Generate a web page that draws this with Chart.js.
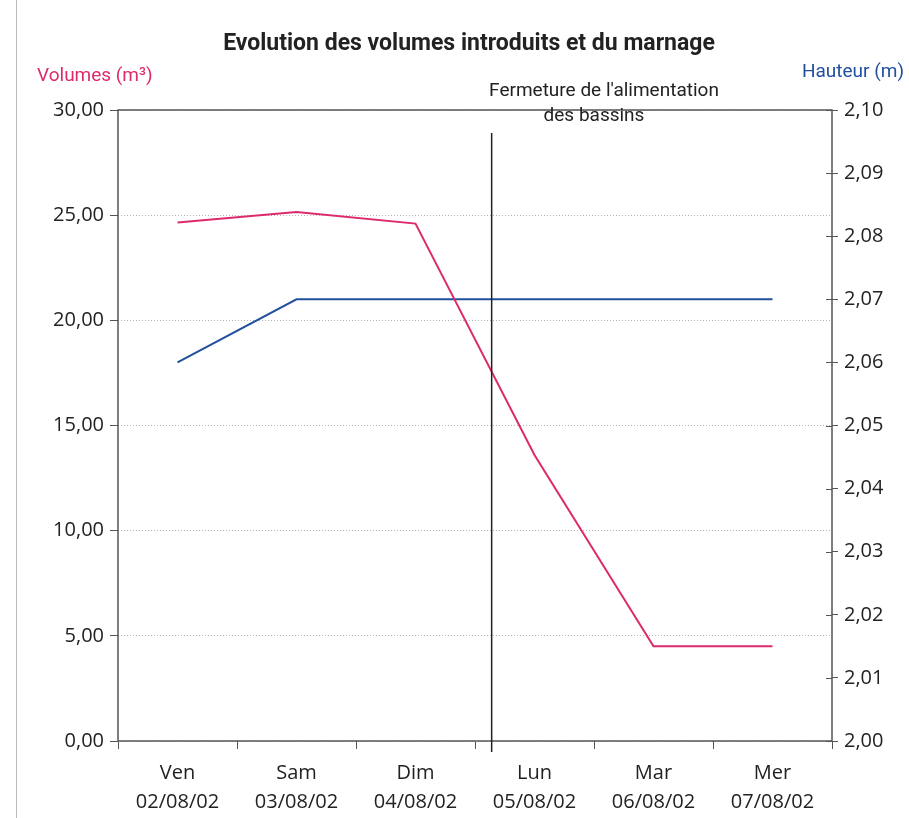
<!DOCTYPE html>
<html>
<head>
<meta charset="utf-8">
<script src="https://cdn.jsdelivr.net/npm/chart.js@4"></script>
<style>
  html, body { margin: 0; padding: 0; background: #fff; }
  #wrap { width: 909px; height: 818px; }
</style>
</head>
<body>
<div id="wrap"><canvas id="myChart" width="909" height="818"></canvas></div>
<script>
// jours (deux lignes par etiquette)
var days = [['Ven', '02/08/02'], ['Sam', '03/08/02'], ['Dim', '04/08/02'], ['Lun', '05/08/02'], ['Mar', '06/08/02'], ['Mer', '07/08/02']];
// volumes introduits (m3), axe gauche
var volumes = [24.65, 25.15, 24.6, 13.6, 4.5, 4.5];
// hauteur du marnage (m), axe droit
var hauteur = [2.06, 2.07, 2.07, 2.07, 2.07, 2.07];
// position de la fermeture (entre Dim et Lun)
var fermeture = 2.64;

var pink = '#dc2a6c';
var blue = '#22509e';
var font = "'Open Sans', 'DejaVu Sans', sans-serif";
var narrow = "'Roboto', sans-serif";

function comma(v) { return Number(v).toFixed(2).replace('.', ','); }

var extras = {
  id: 'extras',
  beforeDraw: function(chart) {
    var c = chart.ctx;
    c.save();
    c.fillStyle = '#fff';
    c.fillRect(0, 0, chart.width, chart.height);
    // bord de page scanne
    c.strokeStyle = '#bbb';
    c.lineWidth = 1;
    c.beginPath(); c.moveTo(16.5, 0); c.lineTo(16.5, chart.height); c.stroke();
    c.restore();
  },
  afterDraw: function(chart) {
    var c = chart.ctx, a = chart.chartArea;
    var x = chart.scales.x, yr = chart.scales.y1;
    c.save();
    // cadre
    c.strokeStyle = '#555';
    c.lineWidth = 1.5;
    c.strokeRect(a.left, a.top, a.right - a.left, a.bottom - a.top);
    // graduations droites qui traversent l'axe
    c.lineWidth = 1;
    yr.ticks.forEach(function(t) {
      var py = Math.round(yr.getPixelForValue(t.value)) + 0.5;
      c.beginPath(); c.moveTo(a.right - 6, py); c.lineTo(a.right, py); c.stroke();
    });
    // ligne de fermeture
    var i0 = Math.floor(fermeture);
    var px = x.getPixelForValue(i0) + (fermeture - i0) * (x.getPixelForValue(i0 + 1) - x.getPixelForValue(i0));
    c.strokeStyle = '#222';
    c.lineWidth = 1.5;
    c.beginPath(); c.moveTo(px, a.top + 23); c.lineTo(px, a.bottom + 11); c.stroke();
    // textes
    c.textBaseline = 'middle';
    c.fillStyle = '#222';
    c.font = 'bold 23px ' + narrow;
    c.textAlign = 'center';
    c.fillText('Evolution des volumes introduits et du marnage', 469, 44);
    c.font = '19px ' + narrow;
    c.fillText("Fermeture de l'alimentation", 604, 91);
    c.fillText('des bassins', 594, 116);
    c.textAlign = 'left';
    c.fillStyle = pink;
    c.fillText('Volumes (m³)', 37, 76);
    c.textAlign = 'right';
    c.fillStyle = blue;
    c.fillText('Hauteur (m)', 904, 72);
    c.restore();
  }
};

var ctx = document.getElementById('myChart');
var myChart = new Chart(ctx, {
  type: 'line',
  data: {
    labels: days,
    datasets: [
      {
        data: volumes,
        label: 'Volumes',
        yAxisID: 'y',
        fill: false,
        borderColor: pink,
        borderWidth: 2,
        pointRadius: 0,
        tension: 0
      },
      {
        data: hauteur,
        label: 'Hauteur',
        yAxisID: 'y1',
        fill: false,
        borderColor: blue,
        borderWidth: 2,
        pointRadius: 0,
        tension: 0
      }
    ]
  },
  options: {
    responsive: false,
    animation: false,
    layout: { padding: { top: 110, left: 0, right: 0, bottom: 0 } },
    plugins: {
      legend: { display: false },
      tooltip: { enabled: false }
    },
    scales: {
      x: {
        offset: true,
        grid: { offset: true, drawOnChartArea: false, tickLength: 8, color: '#555', lineWidth: 1 },
        border: { display: false },
        ticks: { color: '#222', font: { family: font, size: 20, lineHeight: 1.45 }, padding: 10, maxRotation: 0, autoSkip: false },
        afterFit: function(s) { s.height = 77; }
      },
      y: {
        position: 'left',
        min: 0, max: 30,
        ticks: { stepSize: 5, color: '#222', font: { family: font, size: 20 }, padding: 6, callback: function(v) { return comma(v); } },
        grid: { color: '#b5b5b5', tickColor: '#555', tickLength: 8, lineWidth: 1, tickBorderDash: [] },
        border: { display: false, dash: [1, 2] },
        afterFit: function(s) { s.width = 118; }
      },
      y1: {
        position: 'right',
        min: 2.0, max: 2.1,
        ticks: { stepSize: 0.01, color: '#222', font: { family: font, size: 20 }, padding: 6, callback: function(v) { return comma(v); } },
        grid: { drawOnChartArea: false, tickColor: '#555', tickLength: 6 },
        border: { display: false },
        afterFit: function(s) { s.width = 77; }
      }
    }
  },
  plugins: [extras]
});
</script>
</body>
</html>
